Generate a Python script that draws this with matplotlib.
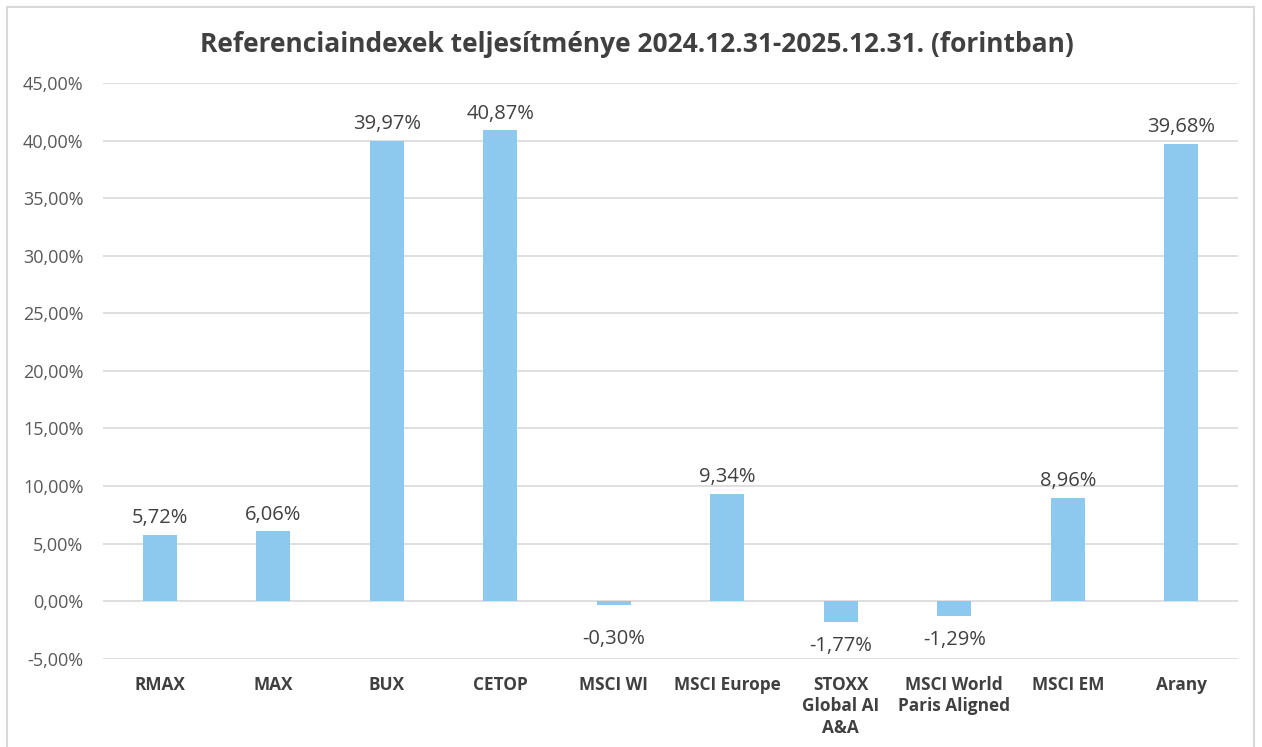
import matplotlib
matplotlib.use("Agg")
import matplotlib.pyplot as plt
from matplotlib.patches import Rectangle
from matplotlib.ticker import FuncFormatter, MultipleLocator

categories = ["RMAX", "MAX", "BUX", "CETOP", "MSCI WI", "MSCI Europe",
              "STOXX\nGlobal AI\nA&A", "MSCI World\nParis Aligned", "MSCI EM", "Arany"]
values = [5.72, 6.06, 39.97, 40.87, -0.30, 9.34, -1.77, -1.29, 8.96, 39.68]
title = "Referenciaindexek teljesítménye 2024.12.31-2025.12.31. (forintban)"

plt.rcParams['font.family'] = ['Open Sans', 'DejaVu Sans']

fig = plt.figure(figsize=(12.62, 7.47), dpi=100)
ax = fig.add_axes([0.0816, 0.118, 0.8994, 0.771])

bar_color = "#8DC9EE"
x = list(range(len(categories)))
ax.bar(x, values, width=0.3, color=bar_color, zorder=3)

ax.set_xlim(-0.5, len(categories) - 0.5)
ax.set_ylim(-5, 45)
ax.yaxis.set_major_locator(MultipleLocator(5))
ax.yaxis.set_major_formatter(FuncFormatter(lambda v, p: f"{v:.2f}%".replace(".", ",")))
ax.grid(axis='y', color="#D9D9D9", linewidth=1.2, zorder=0)
for s in ax.spines.values():
    s.set_visible(False)
ax.tick_params(axis='both', length=0)
ax.tick_params(axis='y', labelsize=13, labelcolor="#595959", pad=14)
ax.set_xticks(x)
ax.set_xticklabels(categories, fontsize=12.4, fontweight='bold', color="#404040",
                   linespacing=1.28, va='top')
ax.tick_params(axis='x', pad=12)

for xi, v in zip(x, values):
    lab = f"{v:.2f}%".replace(".", ",")
    if v >= 0:
        ax.annotate(lab, (xi, v), xytext=(0, 5), textcoords='offset points',
                    ha='center', va='bottom', fontsize=14.5, color="#404040")
    else:
        ax.annotate(lab, (xi, min(v, -1.2)), xytext=(0, -10), textcoords='offset points',
                    ha='center', va='top', fontsize=14.5, color="#404040")

fig.text(0.505, 0.94, title, ha='center', va='center', fontsize=19,
         fontweight='bold', color="#404040")

border = Rectangle((7 / 1262, -0.05), (1254 - 7) / 1262, 1.05 - 7 / 747,
                   transform=fig.transFigure, fill=False, edgecolor="#D9D9D9",
                   linewidth=1.5, clip_on=False)
fig.patches.append(border)

fig.savefig("out.png", dpi=100)
